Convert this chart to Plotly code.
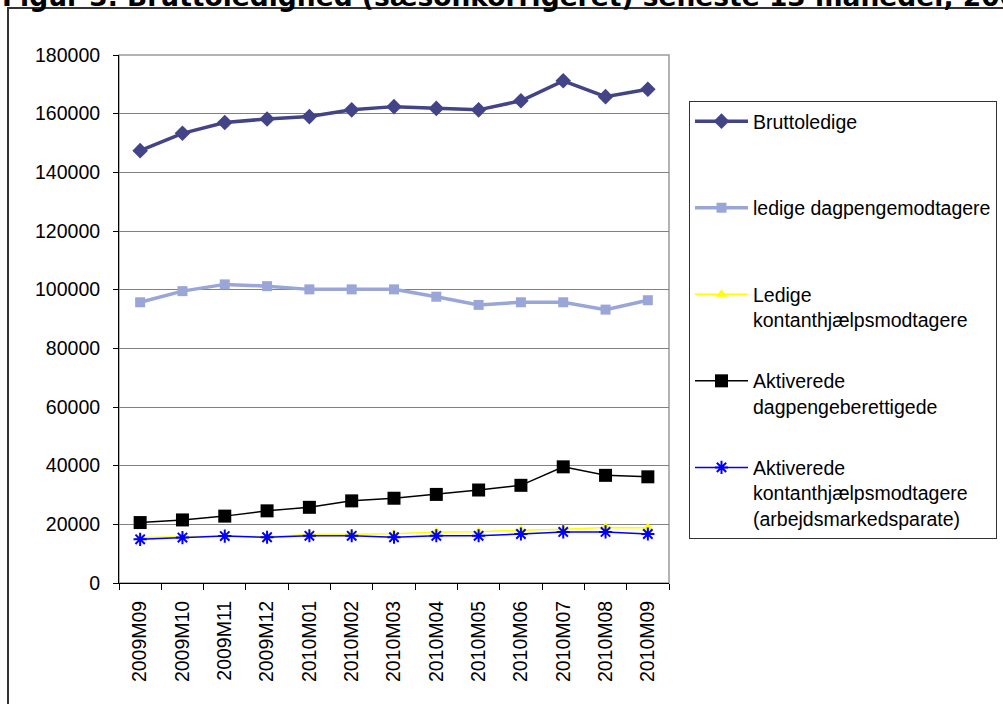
import plotly.graph_objects as go

# Months on the category axis
months = ["2009M09", "2009M10", "2009M11", "2009M12", "2010M01", "2010M02", "2010M03",
          "2010M04", "2010M05", "2010M06", "2010M07", "2010M08", "2010M09"]

# Seasonally adjusted counts of persons
bruttoledige = [147400, 153300, 157000, 158200, 159000, 161300, 162400,
                161800, 161300, 164400, 171200, 165800, 168300]
ledige_dagpenge = [95700, 99500, 101800, 101200, 100100, 100100, 100100,
                   97600, 94800, 95700, 95700, 93200, 96400]
ledige_kontant = [15500, 15800, 16000, 15800, 16500, 16600, 16800,
                  17400, 17500, 18000, 18300, 18900, 18800]
aktiv_dagpenge = [20600, 21500, 22800, 24600, 25800, 28000, 28900,
                  30200, 31700, 33300, 39600, 36700, 36200]
aktiv_kontant = [14900, 15500, 16000, 15600, 16100, 16100, 15600,
                 16100, 16100, 16700, 17400, 17400, 16700]

y_ticks = [0, 20000, 40000, 60000, 80000, 100000, 120000, 140000, 160000, 180000]

# Plot area in pixels inside a 1003 x 704 page
W, H = 1003, 704
L, R, T, B = 119, 669, 55, 583


def px_x(p):
    return (p - L) / (R - L)


def px_y(p):
    return (B - p) / (B - T)


FONT = "Liberation Sans, Arial, sans-serif"
FS = 19.5

series = [
    dict(name="Bruttoledige<br> <br> ", y=bruttoledige, color="#434388", width=3.5,
         symbol="diamond", size=12, mline=0),
    dict(name="ledige dagpengemodtagere<br> <br> ", y=ledige_dagpenge, color="#9aa6d8",
         width=3.5, symbol="square", size=10, mline=0),
    dict(name="Ledige<br>kontanthjælpsmodtagere<br> ", y=ledige_kontant, color="#ffff00",
         width=1.5, symbol="triangle-up", size=10, mline=0),
    dict(name="Aktiverede<br>dagpengeberettigede<br> ", y=aktiv_dagpenge, color="#000000",
         width=1.5, symbol="square", size=13, mline=0),
    dict(name="Aktiverede<br>kontanthjælpsmodtagere<br>(arbejdsmarkedsparate)",
         y=aktiv_kontant, color="#0000ff", width=1.5, symbol="asterisk-open", size=11,
         mline=2),
]

fig = go.Figure()
for i, s in enumerate(series):
    marker = dict(symbol=s["symbol"], size=s["size"], color=s["color"])
    if s["mline"]:
        marker["line"] = dict(color=s["color"], width=s["mline"])
    fig.add_trace(go.Scatter(
        x=months, y=s["y"], name=s["name"], mode="lines+markers",
        line=dict(color=s["color"], width=s["width"]),
        marker=marker, legendgroup=f"g{i}",
    ))

fig.update_layout(
    width=W, height=H,
    margin=dict(l=L, r=W - R, t=T, b=H - B, pad=0, autoexpand=False),
    paper_bgcolor="white", plot_bgcolor="white",
    font=dict(family=FONT, size=FS, color="black"),
    showlegend=True,
    legend=dict(
        x=px_x(689), y=px_y(101), xanchor="left", yanchor="top",
        bordercolor="#333333", borderwidth=1, bgcolor="white",
        font=dict(family=FONT, size=FS, color="black"),
        valign="top", tracegroupgap=7.5, traceorder="grouped", itemwidth=53,
    ),
)

fig.update_xaxes(
    type="category", range=[-0.5, len(months) - 0.5],
    tickangle=-90, showgrid=False, zeroline=False,
    showline=True, linecolor="black", linewidth=1,
    ticks="outside", ticklen=6, tickcolor="black", tickson="boundaries",
    ticklabelstandoff=9,
    tickfont=dict(family=FONT, size=FS, color="black"),
)
fig.update_yaxes(
    range=[0, 180000], tickvals=y_ticks, ticktext=[str(v) for v in y_ticks],
    showgrid=True, gridcolor="#808080", gridwidth=1, zeroline=False,
    showline=True, linecolor="black", linewidth=1,
    ticks="outside", ticklen=5, tickcolor="black", ticklabelstandoff=9,
    tickfont=dict(family=FONT, size=FS, color="black"),
)

# Light border on the top and right of the plotting area
fig.add_shape(type="rect", xref="paper", yref="paper", x0=0, y0=0, x1=1, y1=1,
              line=dict(color="#9a9a9a", width=1.5), layer="below")

# Outer frame of the figure
fig.add_shape(type="rect", xref="paper", yref="paper",
              x0=px_x(8), y0=px_y(712), x1=px_x(1012), y1=px_y(8),
              line=dict(color="#333333", width=2), layer="above")

# Figure caption across the top
fig.add_annotation(
    xref="paper", yref="paper", x=px_x(0), y=px_y(14), xanchor="left", yanchor="bottom",
    text="<b>Figur 3. Bruttoledighed (sæsonkorrigeret) seneste 13 måneder, 2009-2010</b>",
    showarrow=False, font=dict(family="DejaVu Sans", size=26.5, color="black"),
)

fig.write_html("out.html")
